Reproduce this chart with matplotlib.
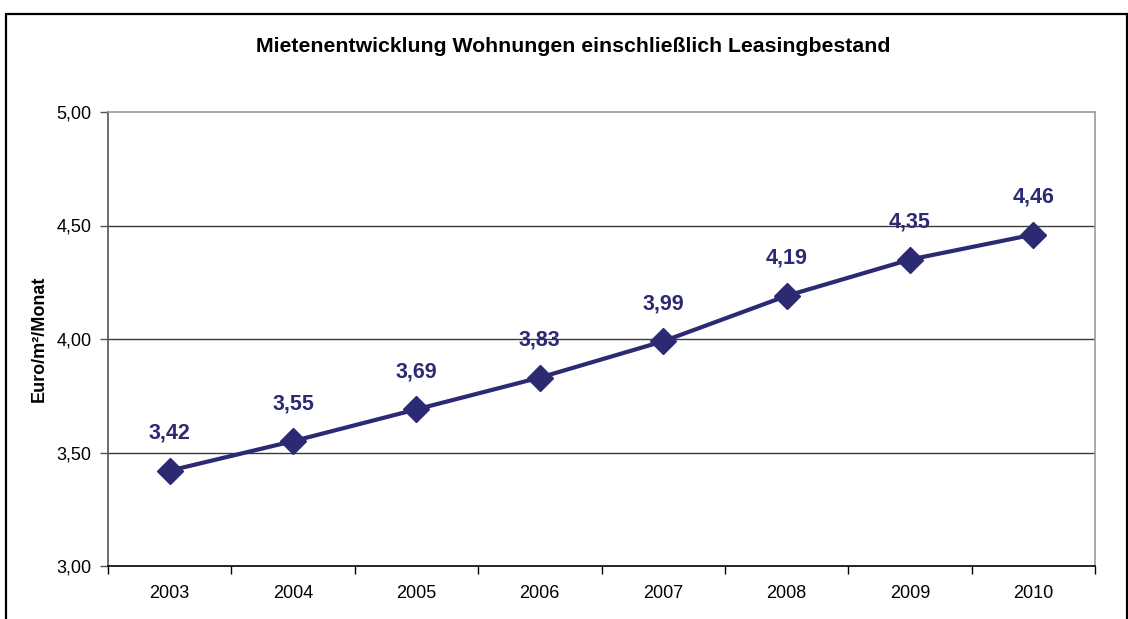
import matplotlib
matplotlib.use("Agg")
import matplotlib.pyplot as plt
from matplotlib.patches import Rectangle

# ── Data ──────────────────────────────────────────────────────────────────────
years = ["2003", "2004", "2005", "2006", "2007", "2008", "2009", "2010"]
rents = [3.42, 3.55, 3.69, 3.83, 3.99, 4.19, 4.35, 4.46]
y_ticks = [3.0, 3.5, 4.0, 4.5, 5.0]

LINE_COLOR = "#2b2a73"
W, H = 1128, 619

plt.rcParams["font.family"] = ["Liberation Sans", "DejaVu Sans"]

fig = plt.figure(figsize=(W / 100, H / 100), dpi=100)
ax = fig.add_axes([108 / W, 1 - 566 / H, (1095 - 108) / W, (566 - 112) / H])

# outer chart frame
fig.patches.append(Rectangle((6 / W, -0.1), (1127 - 6) / W, 0.1 + (1 - 14 / H),
                             transform=fig.transFigure, fill=False,
                             edgecolor="black", lw=1.6))

x = list(range(len(years)))
ax.plot(x, rents, color=LINE_COLOR, lw=3, marker="D", ms=13,
        markerfacecolor=LINE_COLOR, markeredgecolor=LINE_COLOR, zorder=3)

for xi, v in zip(x, rents):
    ax.annotate(f"{v:.2f}".replace(".", ","), (xi, v), xytext=(0, 27),
                textcoords="offset points", ha="center", va="center",
                fontsize=15.5, fontweight="bold", color=LINE_COLOR)

ax.set_xlim(-0.5, len(years) - 0.5)
ax.set_ylim(3.0, 5.0)
ax.set_yticks(y_ticks)
ax.set_yticklabels([f"{t:.2f}".replace(".", ",") for t in y_ticks], fontsize=13)
for t in y_ticks[1:-1]:
    ax.axhline(t, color="#3a3a3a", lw=1, zorder=1)

ax.set_xticks(x)
ax.set_xticklabels(years, fontsize=13)
ax.tick_params(axis="x", which="major", length=0, pad=14)
ax.set_xticks([i - 0.5 for i in range(len(years) + 1)], minor=True)
ax.tick_params(axis="x", which="minor", length=6, width=1, color="black", direction="out")
ax.tick_params(axis="y", length=6, width=1, color="#555555", pad=6)

ax.spines["bottom"].set_color("black")
ax.spines["left"].set_color("#555555")
ax.spines["top"].set_color("#999999")
ax.spines["right"].set_color("#999999")
for s in ax.spines.values():
    s.set_linewidth(1.2)

ax.set_ylabel("Euro/m²/Monat", fontsize=13, fontweight="bold", labelpad=6)
fig.text(573 / W, 1 - 46 / H, "Mietenentwicklung Wohnungen einschließlich Leasingbestand",
         ha="center", va="center", fontsize=15.3, fontweight="bold")

fig.savefig("out.png", dpi=100)
